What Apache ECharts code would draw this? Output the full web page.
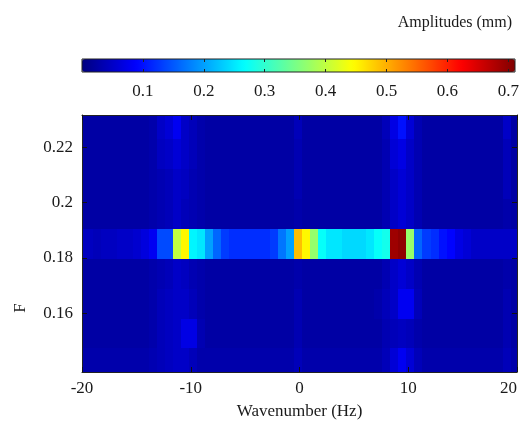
<!DOCTYPE html>
<html>
<head>
<meta charset="utf-8">
<script src="https://cdn.jsdelivr.net/npm/echarts@6/dist/echarts.min.js"></script>
<style>html,body{margin:0;padding:0;background:#fff;}#chart{width:523px;height:421px;}</style>
</head>
<body>
<div id="chart"></div>
<script>
// Wavenumber bin centres (Hz) and frequency bin centres (F)
const xCenters = [-20.14,-19.40,-18.66,-17.92,-17.18,-16.44,-15.70,-14.96,-14.22,-13.48,
  -12.74,-12.00,-11.26,-10.52,-9.78,-9.04,-8.30,-7.56,-6.82,-6.08,
  -5.34,-4.60,-3.86,-3.12,-2.38,-1.64,-0.90,-0.16,0.58,1.32,
  2.06,2.80,3.54,4.28,5.02,5.76,6.50,7.24,7.98,8.72,
  9.46,10.20,10.94,11.68,12.42,13.16,13.90,14.64,15.38,16.12,
  16.86,17.60,18.34,19.08,19.82];
const xStep = 0.74;
const fCenters = [0.1419,0.1527,0.1635,0.1743,0.1851,0.1959,0.2067,0.2175,0.2283];
const fStep = 0.0108;

// Amplitude rows (mm), one per F bin, bottom to top
const amp_F1419 = [0.03,0.03,0.03,0.03,0.03,0.03,0.03,0.03,0.03,0.035,
  0.04,0.045,0.05,0.05,0.04,0.03,0.03,0.03,0.03,0.03,
  0.03,0.03,0.03,0.03,0.03,0.03,0.03,0.04,0.03,0.03,
  0.03,0.03,0.03,0.03,0.03,0.03,0.03,0.03,0.04,0.06,
  0.08,0.06,0.04,0.03,0.03,0.03,0.03,0.03,0.03,0.03,
  0.03,0.03,0.03,0.04,0.03];
const amp_F1527 = [0.025,0.025,0.025,0.025,0.025,0.025,0.025,0.025,0.025,0.03,
  0.04,0.045,0.05,0.07,0.07,0.035,0.025,0.025,0.025,0.025,
  0.025,0.025,0.025,0.025,0.025,0.025,0.025,0.035,0.025,0.025,
  0.025,0.025,0.025,0.025,0.025,0.025,0.025,0.025,0.035,0.04,
  0.045,0.04,0.03,0.025,0.025,0.025,0.025,0.025,0.025,0.025,
  0.025,0.025,0.025,0.035,0.025];
const amp_F1635 = [0.025,0.025,0.025,0.025,0.025,0.025,0.025,0.025,0.025,0.03,
  0.04,0.045,0.05,0.05,0.04,0.03,0.025,0.025,0.025,0.025,
  0.025,0.025,0.025,0.025,0.025,0.025,0.025,0.035,0.025,0.025,
  0.025,0.025,0.025,0.025,0.025,0.025,0.025,0.03,0.04,0.05,
  0.08,0.08,0.04,0.025,0.025,0.025,0.025,0.025,0.025,0.025,
  0.025,0.025,0.025,0.035,0.025];
const amp_F1743 = [0.025,0.025,0.025,0.025,0.025,0.025,0.025,0.025,0.025,0.03,
  0.035,0.04,0.05,0.045,0.035,0.03,0.025,0.025,0.025,0.025,
  0.025,0.025,0.025,0.025,0.025,0.025,0.025,0.03,0.025,0.025,
  0.025,0.025,0.025,0.025,0.025,0.025,0.025,0.025,0.035,0.05,
  0.06,0.05,0.035,0.025,0.025,0.025,0.025,0.025,0.025,0.025,
  0.025,0.025,0.025,0.03,0.025];
const amp_F1851 = [0.045,0.045,0.04,0.045,0.045,0.05,0.05,0.055,0.065,0.08,
  0.14,0.14,0.40,0.45,0.26,0.25,0.20,0.16,0.13,0.12,
  0.12,0.12,0.12,0.12,0.13,0.17,0.20,0.49,0.45,0.37,
  0.27,0.25,0.25,0.24,0.24,0.24,0.25,0.27,0.28,0.69,
  0.70,0.37,0.16,0.13,0.12,0.10,0.09,0.07,0.06,0.05,
  0.05,0.05,0.05,0.05,0.05];
const amp_F1959 = [0.025,0.025,0.025,0.025,0.025,0.025,0.025,0.025,0.025,0.03,
  0.035,0.04,0.05,0.04,0.035,0.03,0.025,0.025,0.025,0.025,
  0.025,0.025,0.025,0.025,0.025,0.025,0.025,0.03,0.025,0.025,
  0.025,0.025,0.025,0.025,0.025,0.025,0.025,0.025,0.035,0.05,
  0.06,0.05,0.035,0.025,0.025,0.025,0.025,0.025,0.025,0.025,
  0.025,0.025,0.025,0.03,0.025];
const amp_F2067 = [0.025,0.025,0.025,0.025,0.025,0.025,0.025,0.025,0.025,0.03,
  0.035,0.04,0.05,0.045,0.035,0.03,0.025,0.025,0.025,0.025,
  0.025,0.025,0.025,0.025,0.025,0.025,0.025,0.035,0.025,0.025,
  0.025,0.025,0.025,0.025,0.025,0.025,0.025,0.025,0.035,0.05,
  0.06,0.05,0.035,0.025,0.025,0.025,0.025,0.025,0.025,0.025,
  0.025,0.025,0.025,0.04,0.025];
const amp_F2175 = [0.025,0.025,0.025,0.025,0.025,0.025,0.025,0.025,0.025,0.03,
  0.045,0.05,0.06,0.05,0.04,0.03,0.025,0.025,0.025,0.025,
  0.025,0.025,0.025,0.025,0.025,0.025,0.025,0.035,0.025,0.025,
  0.025,0.025,0.025,0.025,0.025,0.025,0.025,0.025,0.035,0.06,
  0.07,0.05,0.035,0.025,0.025,0.025,0.025,0.025,0.025,0.025,
  0.025,0.025,0.025,0.04,0.025];
const amp_F2283 = [0.025,0.025,0.025,0.025,0.025,0.025,0.025,0.025,0.025,0.03,
  0.05,0.06,0.08,0.05,0.04,0.03,0.025,0.025,0.025,0.025,
  0.025,0.025,0.025,0.025,0.025,0.025,0.025,0.04,0.025,0.025,
  0.025,0.025,0.025,0.025,0.025,0.025,0.025,0.025,0.04,0.07,
  0.10,0.06,0.035,0.025,0.025,0.025,0.025,0.025,0.025,0.025,
  0.025,0.025,0.025,0.05,0.025];

const ampRows = [amp_F1419, amp_F1527, amp_F1635, amp_F1743, amp_F1851,
                 amp_F1959, amp_F2067, amp_F2175, amp_F2283];

// Tick labels
const xTicks = [-20, -10, 0, 10, 20];
const fTicks = [0.16, 0.18, 0.2, 0.22];
const cbTicks = [0.1, 0.2, 0.3, 0.4, 0.5, 0.6, 0.7];
const ampMin = 0, ampMax = 0.711;

const jet = ['#000080','#0000ff','#0080ff','#00ffff','#80ff80','#ffff00','#ff8000','#ff0000','#800000'];

const data = [];
ampRows.forEach((row, r) => row.forEach((v, i) => data.push([xCenters[i], fCenters[r], v])));

const FONT = '"Liberation Serif", "Times New Roman", serif';
const TXT = '#1a1a1a';

function renderItem(params, api) {
  const x = api.value(0), y = api.value(1);
  const p0 = api.coord([x - xStep / 2, y + fStep / 2]);
  const p1 = api.coord([x + xStep / 2, y - fStep / 2]);
  const x0 = Math.round(p0[0]), x1 = Math.round(p1[0]);
  const y0 = Math.round(p0[1]), y1 = Math.round(p1[1]);
  const cs = params.coordSys;
  const rect = echarts.graphic.clipRectByRect(
    { x: x0, y: y0, width: x1 - x0, height: y1 - y0 },
    { x: cs.x, y: cs.y, width: cs.width, height: cs.height });
  if (!rect) return;
  return { type: 'rect', shape: rect, style: { fill: api.visual('color') } };
}

const chart = echarts.init(document.getElementById('chart'), null, { renderer: 'canvas' });
chart.setOption({
  animation: false,
  backgroundColor: '#ffffff',
  title: {
    text: 'Amplitudes (mm)', right: 6, top: 10,
    textStyle: { fontFamily: FONT, fontSize: 16, fontWeight: 'normal', color: TXT }
  },
  grid: [
    { left: 82, top: 115, width: 435, height: 257, show: false, outerBoundsMode: 'none', containLabel: false },
    { left: 82, top: 59, width: 433, height: 13, show: true, borderColor: '#222', borderWidth: 1,
      backgroundColor: 'transparent', z: 10, outerBoundsMode: 'none', containLabel: false }
  ],
  xAxis: [
    { gridIndex: 0, type: 'value', min: -20, max: 20, interval: 10, position: 'bottom', z: 10,
      axisLine: { show: true, onZero: false, lineStyle: { color: '#222', width: 1 } },
      axisTick: { show: true, inside: true, length: 5, lineStyle: { color: '#111' } },
      axisLabel: { customValues: xTicks, margin: 8, alignMaxLabel: 'right', fontFamily: FONT, fontSize: 17, color: TXT },
      splitLine: { show: false },
      name: 'Wavenumber (Hz)', nameLocation: 'middle', nameGap: 31,
      nameTextStyle: { fontFamily: FONT, fontSize: 17, color: TXT } },
    { gridIndex: 0, type: 'value', min: -20, max: 20, interval: 10, position: 'top', z: 10,
      axisLine: { show: true, onZero: false, lineStyle: { color: '#222', width: 1 } },
      axisTick: { show: true, inside: true, length: 5, lineStyle: { color: '#111' } },
      axisLabel: { show: false }, splitLine: { show: false } },
    { gridIndex: 1, type: 'value', min: ampMin, max: ampMax, position: 'bottom', z: 11,
      axisLine: { show: false, onZero: false },
      axisTick: { show: true, inside: true, length: 3, customValues: cbTicks, lineStyle: { color: '#222' } },
      axisLabel: { customValues: cbTicks, margin: 11, fontFamily: FONT, fontSize: 17, color: TXT },
      splitLine: { show: false } },
    { gridIndex: 1, type: 'value', min: ampMin, max: ampMax, position: 'top', z: 11,
      axisLine: { show: false, onZero: false },
      axisTick: { show: true, inside: true, length: 3, customValues: cbTicks, lineStyle: { color: '#222' } },
      axisLabel: { show: false }, splitLine: { show: false } }
  ],
  yAxis: [
    { gridIndex: 0, type: 'value', min: 0.1388, max: 0.2316, position: 'left', z: 10,
      axisLine: { show: true, onZero: false, lineStyle: { color: '#222', width: 1 } },
      axisTick: { show: true, inside: true, length: 5, customValues: fTicks, lineStyle: { color: '#111' } },
      axisLabel: { customValues: fTicks, margin: 9, fontFamily: FONT, fontSize: 17, color: TXT },
      splitLine: { show: false } },
    { gridIndex: 0, type: 'value', min: 0.1388, max: 0.2316, position: 'right', z: 10,
      axisLine: { show: true, onZero: false, lineStyle: { color: '#222', width: 1 } },
      axisTick: { show: true, inside: true, length: 5, customValues: fTicks, lineStyle: { color: '#111' } },
      axisLabel: { show: false }, splitLine: { show: false } },
    { gridIndex: 1, type: 'value', min: 0, max: 1, show: false }
  ],
  visualMap: {
    type: 'continuous', min: ampMin, max: ampMax, dimension: 2, seriesIndex: 0,
    orient: 'horizontal', left: 82, top: 59, itemWidth: 13, itemHeight: 433, padding: 0,
    calculable: false, hoverLink: false, text: null,
    inRange: { color: jet }
  },
  graphic: [
    { type: 'text', x: 21, y: 308, rotation: Math.PI / 2,
      style: { text: 'F', font: '17px ' + FONT, fill: TXT, align: 'center', verticalAlign: 'middle' } }
  ],
  series: [{
    type: 'custom', xAxisIndex: 0, yAxisIndex: 0,
    renderItem: renderItem,
    encode: { x: 0, y: 1 },
    data: data
  }]
});
</script>
</body>
</html>
